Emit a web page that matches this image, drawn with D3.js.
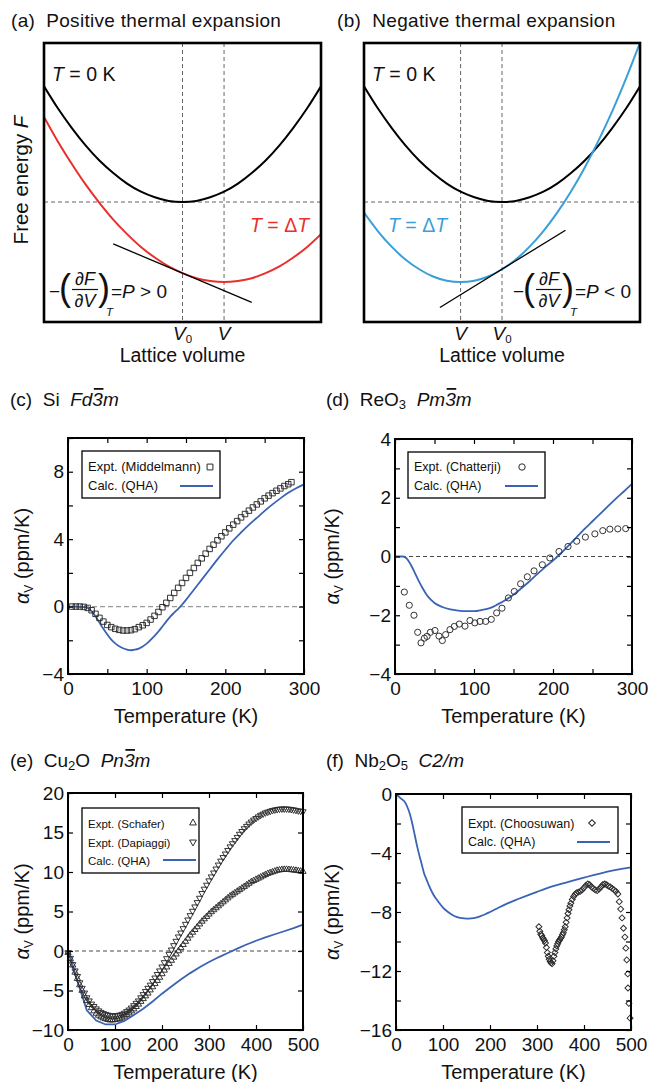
<!DOCTYPE html>
<html>
<head>
<meta charset="utf-8">
<script src="https://cdn.jsdelivr.net/npm/d3@7"></script>
<style>
  body { margin: 0; background: #fff; }
  svg text { font-family: "Liberation Sans", Arial, Helvetica, sans-serif; fill: #111; white-space: pre; }
</style>
</head>
<body>
<svg id="fig" width="651" height="1082"></svg>
<script>
// ---------- schematic free-energy curves (arbitrary units, V and F on 0..10) ----------
const schemeV        = [0,0.5,1,1.5,2,2.5,3,3.5,4,4.5,5,5.5,6,6.5,7,7.5,8,8.5,9,9.5,10];
const energyGround   = [8.45,7.66,6.96,6.33,5.79,5.34,4.96,4.67,4.47,4.34,4.3,4.34,4.47,4.67,4.96,5.34,5.79,6.33,6.96,7.66,8.45];
const energyPositive = [7.35,6.47,5.67,4.93,4.27,3.67,3.15,2.69,2.31,1.99,1.75,1.57,1.47,1.43,1.47,1.57,1.75,1.99,2.31,2.69,3.15];
const energyNegative = [3.92,3.26,2.70,2.24,1.89,1.63,1.48,1.43,1.48,1.63,1.89,2.24,2.70,3.26,3.92,4.68,5.54,6.51,7.57,8.74,10.01];
const tangentPositive = [[2.5,2.8],[7.5,0.7]];
const tangentNegative = [[2.75,0.52],[7.3,3.29]];
const groundVolume = 5, groundEnergy = 4.3;
const volumePositive = 6.5, volumeNegative = 3.5;

// ---------- (c) Si ----------
const siExpt = [[5,0],[10,0],[15,0],[20,-0.02],[25,-0.08],[30,-0.22],[35,-0.43],[40,-0.67],[45,-0.89],[50,-1.09],
  [55,-1.22],[60,-1.32],[65,-1.38],[70,-1.42],[75,-1.42],[80,-1.4],[85,-1.34],[90,-1.22],[95,-1.11],[100,-0.97],
  [105,-0.77],[110,-0.55],[115,-0.32],[120,-0.04],[125,0.22],[130,0.51],[135,0.81],[140,1.11],[145,1.4],[150,1.7],
  [155,2.0],[160,2.29],[165,2.59],[170,2.86],[175,3.14],[180,3.42],[185,3.67],[190,3.93],[195,4.17],[200,4.4],
  [205,4.64],[210,4.86],[215,5.07],[220,5.29],[225,5.49],[230,5.69],[235,5.88],[240,6.06],[245,6.24],[250,6.42],
  [255,6.58],[260,6.73],[265,6.87],[270,7.01],[275,7.15],[280,7.26],[284,7.38]];
const siCalc = [[0,0],[10,0],[20,-0.03],[25,-0.08],[30,-0.28],[35,-0.58],[40,-0.95],[45,-1.32],[50,-1.66],[55,-1.96],
  [60,-2.18],[65,-2.35],[70,-2.47],[75,-2.55],[80,-2.59],[85,-2.56],[90,-2.49],[95,-2.37],[100,-2.2],[105,-1.98],
  [110,-1.74],[115,-1.48],[120,-1.18],[125,-0.88],[130,-0.6],[135,-0.36],[140,-0.13],[145,0.12],[150,0.4],[155,0.7],
  [160,1.0],[170,1.6],[180,2.2],[190,2.8],[200,3.37],[210,3.92],[220,4.4],[230,4.85],[240,5.26],[250,5.68],
  [260,6.06],[270,6.42],[280,6.75],[290,7.02],[300,7.25]];

// ---------- (d) ReO3 ----------
const reo3Expt = [[11.8,-1.21],[18.1,-1.66],[24,-2.0],[28.7,-2.58],[32.9,-2.94],[37.1,-2.78],[40.5,-2.72],[44.7,-2.58],
  [50.6,-2.52],[55.7,-2.71],[59.9,-2.86],[64.1,-2.66],[69.6,-2.49],[75.1,-2.38],[81.4,-2.3],[88.6,-2.37],[94.9,-2.18],
  [101,-2.26],[107.6,-2.21],[114.8,-2.21],[121.9,-2.14],[128.7,-1.92],[135.4,-1.76],[143.5,-1.41],[151,-1.19],
  [159,-0.93],[167.5,-0.69],[176,-0.49],[186.5,-0.28],[196,-0.05],[207.6,0.17],[219,0.34],[230,0.52],[241,0.66],
  [253,0.77],[263,0.88],[272,0.93],[282,0.94],[292,0.95]];
const reo3Calc = [[0,0],[10,0],[15,-0.07],[20,-0.28],[25,-0.55],[30,-0.83],[35,-1.08],[40,-1.3],[45,-1.46],[50,-1.58],
  [60,-1.72],[70,-1.8],[80,-1.84],[90,-1.86],[100,-1.86],[110,-1.82],[120,-1.76],[130,-1.63],[140,-1.48],[150,-1.3],
  [160,-1.08],[170,-0.85],[180,-0.6],[190,-0.36],[200,-0.14],[210,0.11],[220,0.38],[230,0.66],[240,0.94],[250,1.2],
  [260,1.46],[270,1.72],[280,1.98],[290,2.22],[300,2.47]];

// ---------- (e) Cu2O ----------
const cu2oSchafer = [[0,-0.2],[5,-1.0],[10,-1.8],[15,-2.7],[20,-3.5],[25,-4.3],[30,-5.0],[35,-5.7],[40,-6.3],[45,-6.8],
  [50,-7.2],[55,-7.6],[60,-7.9],[65,-8.15],[70,-8.35],[75,-8.5],[80,-8.6],[85,-8.7],[90,-8.75],[95,-8.75],
  [100,-8.7],[105,-8.65],[110,-8.55],[115,-8.4],[120,-8.25],[125,-8.05],[130,-7.85],[135,-7.6],[140,-7.35],[145,-7.05],
  [150,-6.75],[155,-6.4],[160,-6.05],[165,-5.7],[170,-5.35],[175,-4.95],[180,-4.55],[185,-4.15],[190,-3.75],[195,-3.35],
  [200,-2.9],[205,-2.45],[210,-2.05],[215,-1.6],[220,-1.2],[225,-0.8],[230,-0.4],[235,0.0],[240,0.4],[245,0.8],
  [250,1.2],[255,1.6],[260,2.0],[265,2.35],[270,2.7],[275,3.05],[280,3.4],[285,3.75],[290,4.05],[295,4.35],
  [300,4.65],[305,4.95],[310,5.2],[315,5.45],[320,5.7],[325,5.95],[330,6.2],[335,6.45],[340,6.7],[345,6.95],
  [350,7.15],[355,7.35],[360,7.55],[365,7.75],[370,7.95],[375,8.15],[380,8.35],[385,8.55],[390,8.75],[395,8.9],
  [400,9.05],[405,9.2],[410,9.35],[415,9.5],[420,9.65],[425,9.8],[430,9.9],[435,10.0],[440,10.1],[445,10.2],
  [450,10.25],[455,10.3],[460,10.32],[465,10.32],[470,10.3],[475,10.27],[480,10.23],[485,10.2],[490,10.15],[495,10.1],[500,10.05]];
const cu2oDapiaggi = [[0,-0.2],[5,-0.9],[10,-1.7],[15,-2.5],[20,-3.2],[25,-4.0],[30,-4.7],[35,-5.3],[40,-5.9],[45,-6.3],
  [50,-6.7],[55,-7.0],[60,-7.3],[65,-7.55],[70,-7.75],[75,-7.9],[80,-8.0],[85,-8.1],[90,-8.15],[95,-8.2],
  [100,-8.2],[105,-8.15],[110,-8.1],[115,-8.0],[120,-7.85],[125,-7.65],[130,-7.45],[135,-7.2],[140,-6.9],[145,-6.6],
  [150,-6.3],[155,-5.9],[160,-5.5],[165,-5.1],[170,-4.7],[175,-4.3],[180,-3.85],[185,-3.4],[190,-2.95],[195,-2.5],
  [200,-2.0],[205,-1.45],[210,-0.95],[215,-0.4],[220,0.15],[225,0.7],[230,1.25],[235,1.8],[240,2.3],[245,2.85],
  [250,3.4],[255,3.95],[260,4.5],[265,5.05],[270,5.6],[275,6.15],[280,6.7],[285,7.3],[290,7.85],[295,8.35],
  [300,8.9],[305,9.4],[310,9.9],[315,10.4],[320,10.9],[325,11.4],[330,11.85],[335,12.3],[340,12.75],[345,13.2],
  [350,13.6],[355,14.0],[360,14.4],[365,14.8],[370,15.15],[375,15.5],[380,15.8],[385,16.1],[390,16.35],[395,16.6],
  [400,16.8],[405,17.0],[410,17.2],[415,17.35],[420,17.5],[425,17.6],[430,17.7],[435,17.8],[440,17.87],[445,17.93],
  [450,17.98],[455,18.0],[460,18.0],[465,18.0],[470,17.97],[475,17.93],[480,17.88],[485,17.82],[490,17.76],[495,17.7],[500,17.65]];
const cu2oCalc = [[0,0],[20,-3.8],[40,-7.5],[60,-8.8],[80,-9.3],[100,-9.3],[120,-8.85],[140,-8.1],[160,-7.3],[180,-6.4],
  [200,-5.4],[220,-4.5],[240,-3.6],[260,-2.8],[280,-2.05],[300,-1.4],[320,-0.8],[340,-0.25],[360,0.3],[380,0.82],
  [400,1.3],[420,1.72],[440,2.12],[460,2.5],[480,2.9],[500,3.35]];

// ---------- (f) Nb2O5 ----------
const nb2o5Expt = [[304,-9.0],[306,-9.3],[308,-9.5],[310,-9.6],[312,-9.75],[314,-9.85],[316,-9.95],[318,-10.1],[320,-10.4],
  [322,-10.75],[324,-11.0],[326,-11.2],[328,-11.35],[330,-11.45],[332,-11.5],[334,-11.3],[336,-11.0],[338,-10.75],
  [340,-10.5],[342,-10.3],[344,-10.15],[346,-10.0],[348,-9.9],[350,-9.8],[352,-9.7],[354,-9.55],[356,-9.4],[358,-9.2],
  [360,-9.0],[362,-8.7],[364,-8.4],[366,-8.1],[368,-7.85],[370,-7.6],[372,-7.4],[375,-7.15],[378,-6.95],[381,-6.8],
  [384,-6.7],[388,-6.65],[392,-6.6],[396,-6.5],[400,-6.35],[404,-6.2],[408,-6.1],[412,-6.15],[416,-6.3],[420,-6.4],
  [424,-6.5],[428,-6.55],[432,-6.45],[436,-6.3],[440,-6.15],[444,-6.1],[448,-6.15],[452,-6.25],[456,-6.3],[460,-6.4],
  [464,-6.5],[468,-6.6],[472,-6.78],[475,-7.3],[478,-7.8],[481,-8.4],[484,-9.1],[487,-9.7],[489,-10.45],[491,-11.25],
  [493,-12.2],[493.5,-13.15],[495.5,-14.2],[498,-15.2]];
const nb2o5Calc = [[0,0],[10,-0.3],[20,-0.6],[25,-0.95],[30,-1.4],[35,-2.05],[40,-2.8],[45,-3.55],[50,-4.2],[55,-4.8],
  [60,-5.4],[65,-5.8],[70,-6.2],[80,-6.85],[90,-7.3],[100,-7.7],[110,-7.98],[120,-8.2],[130,-8.35],[140,-8.42],
  [150,-8.45],[160,-8.43],[170,-8.38],[180,-8.28],[190,-8.15],[200,-8.0],[220,-7.68],[240,-7.38],[260,-7.12],[280,-6.87],
  [300,-6.63],[320,-6.4],[340,-6.2],[360,-6.02],[380,-5.84],[400,-5.67],[420,-5.5],[440,-5.34],[460,-5.2],[480,-5.08],[500,-4.97]];

const calcBlue = "#3b63b4";
const markerStroke = "#2a2a2a";

const svg = d3.select("#fig");

// text made of styled pieces (italic, subscript, size, colour)
function richText(parent, x, y, parts, size, anchor) {
  const t = parent.append("text").attr("x", x).attr("y", y).attr("font-size", size)
    .attr("text-anchor", anchor || "start");
  let shift = 0;
  parts.forEach(p => {
    const s = t.append("tspan").text(p.t);
    const target = p.sub ? p.sub : 0;
    if (target !== shift) { s.attr("dy", target - shift); shift = target; }
    if (p.italic) s.attr("font-style", "italic");
    if (p.size) s.attr("font-size", p.size);
    if (p.fill) s.style("fill", p.fill);
  });
  return t;
}

// bar over one character (space-group symbols)
function overline(parent, textSel, index, baseline, size) {
  const node = textSel.node();
  if (index < 0 || index >= node.getNumberOfChars()) return;
  const r = node.getExtentOfChar(index);
  parent.append("line")
    .attr("x1", r.x + 1.5).attr("x2", r.x + r.width + 0.5)
    .attr("y1", baseline - size * 0.9).attr("y2", baseline - size * 0.9)
    .attr("stroke", "#111").attr("stroke-width", 1.8);
}

// −(∂F/∂V)_T = P ≷ 0
function pressureFormula(g, x0, relation) {
  g.append("text").attr("x", x0).attr("y", 298).attr("font-size", 19).text("\u2212");
  g.append("text").attr("x", x0 + 10).attr("y", 300).attr("font-size", 36).text("(");
  g.append("text").attr("x", x0 + 36).attr("y", 285).attr("font-size", 18).attr("font-style", "italic")
    .attr("text-anchor", "middle").text("\u2202F");
  g.append("line").attr("x1", x0 + 23).attr("x2", x0 + 49).attr("y1", 289.5).attr("y2", 289.5)
    .attr("stroke", "#111").attr("stroke-width", 1.2);
  g.append("text").attr("x", x0 + 36).attr("y", 307).attr("font-size", 18).attr("font-style", "italic")
    .attr("text-anchor", "middle").text("\u2202V");
  g.append("text").attr("x", x0 + 49).attr("y", 300).attr("font-size", 36).text(")");
  g.append("text").attr("x", x0 + 57).attr("y", 316).attr("font-size", 11.5).attr("font-style", "italic").text("T");
  richText(g, x0 + 62, 298, [{t: "="}, {t: "P", italic: true}, {t: " " + relation + " 0"}], 19);
}

function schematicPanel(c) {
  const g = svg.append("g");
  const x = d3.scaleLinear().domain([0, 10]).range([c.left, c.right]);
  const y = d3.scaleLinear().domain([0, 10]).range([c.bottom, c.top]);
  g.append("clipPath").attr("id", "clip-" + c.id).append("rect")
    .attr("x", c.left).attr("y", c.top).attr("width", c.right - c.left).attr("height", c.bottom - c.top);
  const inner = g.append("g").attr("clip-path", `url(#clip-${c.id})`);

  // guide lines through the minima
  [groundVolume, c.volume].forEach(v => inner.append("line")
    .attr("x1", x(v)).attr("x2", x(v)).attr("y1", c.top).attr("y2", c.bottom)
    .attr("stroke", "#666").attr("stroke-width", 1).attr("stroke-dasharray", "4,3"));
  inner.append("line").attr("x1", c.left).attr("x2", c.right)
    .attr("y1", y(groundEnergy)).attr("y2", y(groundEnergy))
    .attr("stroke", "#666").attr("stroke-width", 1).attr("stroke-dasharray", "4,3");

  const curve = d3.line().x(d => x(d[0])).y(d => y(d[1])).curve(d3.curveNatural);
  inner.append("path").datum(schemeV.map((v, i) => [v, energyGround[i]])).attr("d", curve)
    .attr("fill", "none").attr("stroke", "#000").attr("stroke-width", 2);
  inner.append("path").datum(schemeV.map((v, i) => [v, c.energy[i]])).attr("d", curve)
    .attr("fill", "none").attr("stroke", c.color).attr("stroke-width", 2);
  inner.append("path").datum(c.tangent).attr("d", d3.line().x(d => x(d[0])).y(d => y(d[1])))
    .attr("fill", "none").attr("stroke", "#000").attr("stroke-width", 1.3);

  g.append("rect").attr("x", c.left).attr("y", c.top).attr("width", c.right - c.left)
    .attr("height", c.bottom - c.top).attr("fill", "none").attr("stroke", "#000").attr("stroke-width", 2.6);

  // labels
  richText(g, c.titleX, 27, [{t: c.title}], 19).attr("letter-spacing", 0.3);
  richText(g, c.left + 8, 81, [{t: "T", italic: true}, {t: " = 0 K"}], 19.5);
  richText(g, c.hotX, 232, [{t: "T", italic: true, fill: c.color}, {t: " = \u0394", fill: c.color},
    {t: "T", italic: true, fill: c.color}], 19.5);
  pressureFormula(g, c.formulaX, c.relation);
  richText(g, x(groundVolume), 340, [{t: "V", italic: true}, {t: "0", sub: 3, size: 11.5}], 19, "middle");
  richText(g, x(c.volume), 340, [{t: "V", italic: true}], 19, "middle");
  richText(g, (c.left + c.right) / 2, 362, [{t: "Lattice volume"}], 19.5, "middle");
  if (c.yTitle) {
    richText(g, 0, 0, [{t: "Free energy "}, {t: "F", italic: true}], 20.5, "middle")
      .attr("transform", "translate(28,180) rotate(-90)");
  }
}

schematicPanel({id: "a", left: 44, right: 321, top: 43, bottom: 322, volume: volumePositive,
  energy: energyPositive, tangent: tangentPositive, color: "#e8302c", title: "(a)  Positive thermal expansion",
  titleX: 11, hotX: 250, formulaX: 49, relation: ">", yTitle: true});
schematicPanel({id: "b", left: 364, right: 640, top: 43, bottom: 322, volume: volumeNegative,
  energy: energyNegative, tangent: tangentNegative, color: "#3a9fd9", title: "(b)  Negative thermal expansion",
  titleX: 337, hotX: 388, formulaX: 513, relation: "<", yTitle: false});

// ---------- thermal-expansion panels ----------
function dataPanel(c) {
  const g = svg.append("g");
  const x = d3.scaleLinear().domain(c.xDomain).range([c.left, c.right]);
  const y = d3.scaleLinear().domain(c.yDomain).range([c.bottom, c.top]);
  const num = d3.format("d");
  const fx = v => c.xLabels.includes(v) ? num(v) : "";
  const fy = v => c.yLabels.includes(v) ? num(v) : "";

  // zero line
  if (c.zeroColor !== "none") {
    g.append("line").attr("x1", c.left).attr("x2", c.right).attr("y1", y(0)).attr("y2", y(0))
      .attr("stroke", c.zeroColor).attr("stroke-width", c.zeroWidth).attr("stroke-dasharray", c.zeroDash);
  }

  // calculated curve
  g.append("path").datum(c.calc)
    .attr("d", d3.line().x(d => x(d[0])).y(d => y(d[1])).curve(c.calcCurve))
    .attr("fill", "none").attr("stroke", calcBlue).attr("stroke-width", 1.8);

  // measured points
  c.expt.forEach(s => {
    const sym = d3.symbol().type(s.type).size(s.size);
    g.append("g").selectAll("path").data(s.data).join("path")
      .attr("d", sym)
      .attr("transform", d => `translate(${x(d[0])},${y(d[1])}) rotate(${s.rotate || 0})`)
      .attr("fill", "none").attr("stroke", markerStroke).attr("stroke-width", 0.95);
  });

  // axes, ticks pointing inward on all four sides
  const styleAxis = a => {
    a.select(".domain").remove();
    a.selectAll(".tick line").attr("stroke", "#000").attr("stroke-width", 1.2);
    a.selectAll(".tick text").attr("font-size", 19).style("fill", "#111");
    a.attr("font-family", null).attr("font-size", null);
  };
  g.append("g").attr("transform", `translate(0,${c.bottom})`)
    .call(d3.axisBottom(x).tickValues(c.xTicks).tickSize(-5).tickPadding(8).tickFormat(fx)).call(styleAxis);
  g.append("g").attr("transform", `translate(0,${c.top})`)
    .call(d3.axisTop(x).tickValues(c.xTicks).tickSize(-5).tickFormat("")).call(styleAxis);
  g.append("g").attr("transform", `translate(${c.left},0)`)
    .call(d3.axisLeft(y).tickValues(c.yTicks).tickSize(-5).tickPadding(4).tickFormat(fy)).call(styleAxis);
  g.append("g").attr("transform", `translate(${c.right},0)`)
    .call(d3.axisRight(y).tickValues(c.yTicks).tickSize(-5).tickFormat("")).call(styleAxis);

  g.append("rect").attr("x", c.left).attr("y", c.top).attr("width", c.right - c.left)
    .attr("height", c.bottom - c.top).attr("fill", "none").attr("stroke", "#000").attr("stroke-width", 2);

  // legend
  const L = c.legend;
  g.append("rect").attr("x", L.x).attr("y", L.y).attr("width", L.w).attr("height", L.h)
    .attr("fill", "#fff").attr("stroke", "#000").attr("stroke-width", 1.3);
  L.rows.forEach(r => {
    g.append("text").attr("x", L.x + 6).attr("y", r.y).attr("font-size", L.size).text(r.label);
    if (r.symbol) {
      g.append("path").attr("d", d3.symbol().type(r.symbol.type).size(r.symbol.size))
        .attr("transform", `translate(${r.symbol.x},${r.symbol.y}) rotate(${r.symbol.rotate || 0})`)
        .attr("fill", "none").attr("stroke", markerStroke).attr("stroke-width", 1);
    }
    if (r.line) {
      g.append("line").attr("x1", r.line[0]).attr("x2", r.line[1]).attr("y1", r.line[2]).attr("y2", r.line[2])
        .attr("stroke", calcBlue).attr("stroke-width", 2);
    }
  });

  // titles
  const t = richText(g, c.titleX, c.titleY, c.title, 19);
  overline(g, t, c.barIndex, c.titleY, 19);
  richText(g, (c.left + c.right) / 2, c.bottom + 49, [{t: "Temperature (K)"}], 20, "middle");
  richText(g, 0, 0, [{t: "\u03b1", italic: true}, {t: "V", sub: 4, size: 12}, {t: " (ppm/K)"}], 20, "middle")
    .attr("transform", `translate(${c.yTitleX},${(c.top + c.bottom) / 2}) rotate(-90)`);
}

dataPanel({
  left: 68, right: 304, top: 438, bottom: 674,
  xDomain: [0, 300], yDomain: [-4, 10],
  xTicks: [0, 50, 100, 150, 200, 250, 300], xLabels: [0, 100, 200, 300],
  yTicks: [-4, -2, 0, 2, 4, 6, 8, 10], yLabels: [-4, 0, 4, 8],
  zeroColor: "#999", zeroWidth: 1.3, zeroDash: "5,3",
  calc: siCalc, calcCurve: d3.curveMonotoneX,
  expt: [{data: siExpt, type: d3.symbolSquare, size: 30}],
  legend: {x: 82, y: 451, w: 138, h: 47, size: 13, rows: [
    {label: "Expt. (Middelmann)", y: 471, symbol: {type: d3.symbolSquare, size: 34, x: 210, y: 467}},
    {label: "Calc. (QHA)", y: 490, line: [180, 213, 486]}]},
  title: [{t: "(c)  Si  "}, {t: "Fd3m", italic: true}], barIndex: 11, titleX: 10, titleY: 406,
  yTitleX: 29
});

dataPanel({
  left: 395, right: 632, top: 439, bottom: 674,
  xDomain: [0, 300], yDomain: [-4, 4],
  xTicks: [0, 50, 100, 150, 200, 250, 300], xLabels: [0, 100, 200, 300],
  yTicks: [-4, -3, -2, -1, 0, 1, 2, 3, 4], yLabels: [-4, -2, 0, 2, 4],
  zeroColor: "#333", zeroWidth: 0.9, zeroDash: "4,3",
  calc: reo3Calc, calcCurve: d3.curveMonotoneX,
  expt: [{data: reo3Expt, type: d3.symbolCircle, size: 30}],
  legend: {x: 408, y: 452, w: 137, h: 46, size: 12.5, rows: [
    {label: "Expt. (Chatterji)", y: 471, symbol: {type: d3.symbolCircle, size: 32, x: 522, y: 467}},
    {label: "Calc. (QHA)", y: 490, line: [505, 538, 486]}]},
  title: [{t: "(d)  ReO"}, {t: "3", sub: 3, size: 13}, {t: "  ", sub: 0}, {t: "Pm3m", italic: true}],
  barIndex: 13, titleX: 326, titleY: 406,
  yTitleX: 339
});

dataPanel({
  left: 68, right: 303, top: 793, bottom: 1030,
  xDomain: [0, 500], yDomain: [-10, 20],
  xTicks: [0, 100, 200, 300, 400, 500], xLabels: [0, 100, 200, 300, 400, 500],
  yTicks: [-10, -5, 0, 5, 10, 15, 20], yLabels: [-10, -5, 0, 5, 10, 15, 20],
  zeroColor: "#333", zeroWidth: 0.9, zeroDash: "4,3",
  calc: cu2oCalc, calcCurve: d3.curveLinear,
  expt: [{data: cu2oSchafer, type: d3.symbolTriangle, size: 17},
         {data: cu2oDapiaggi, type: d3.symbolTriangle, size: 17, rotate: 180}],
  legend: {x: 82, y: 808, w: 117, h: 65, size: 11.5, rows: [
    {label: "Expt. (Schafer)", y: 828, symbol: {type: d3.symbolTriangle, size: 20, x: 193, y: 823}},
    {label: "Expt. (Dapiaggi)", y: 847, symbol: {type: d3.symbolTriangle, size: 20, x: 193, y: 842, rotate: 180}},
    {label: "Calc. (QHA)", y: 865, line: [163, 196, 860]}]},
  title: [{t: "(e)  Cu"}, {t: "2", sub: 3, size: 13}, {t: "O  ", sub: 0}, {t: "Pn3m", italic: true}],
  barIndex: 13, titleX: 10, titleY: 767,
  yTitleX: 29
});

dataPanel({
  left: 396, right: 631, top: 794, bottom: 1030,
  xDomain: [0, 500], yDomain: [-16, 0],
  xTicks: [0, 100, 200, 300, 400, 500], xLabels: [0, 100, 200, 300, 400, 500],
  yTicks: [-16, -14, -12, -10, -8, -6, -4, -2, 0], yLabels: [-16, -12, -8, -4, 0],
  zeroColor: "none", zeroWidth: 0, zeroDash: "4,3",
  calc: nb2o5Calc, calcCurve: d3.curveMonotoneX,
  expt: [{data: nb2o5Expt, type: d3.symbolSquare, size: 18, rotate: 45}],
  legend: {x: 462, y: 807, w: 156, h: 46, size: 12.5, rows: [
    {label: "Expt. (Choosuwan)", y: 828, symbol: {type: d3.symbolSquare, size: 22, x: 592, y: 823, rotate: 45}},
    {label: "Calc. (QHA)", y: 846, line: [577, 610, 842]}]},
  title: [{t: "(f)  Nb"}, {t: "2", sub: 3, size: 13}, {t: "O", sub: 0}, {t: "5", sub: 3, size: 13},
          {t: "  ", sub: 0}, {t: "C2/m", italic: true}],
  barIndex: -1, titleX: 326, titleY: 767,
  yTitleX: 339
});
</script>
</body>
</html>
